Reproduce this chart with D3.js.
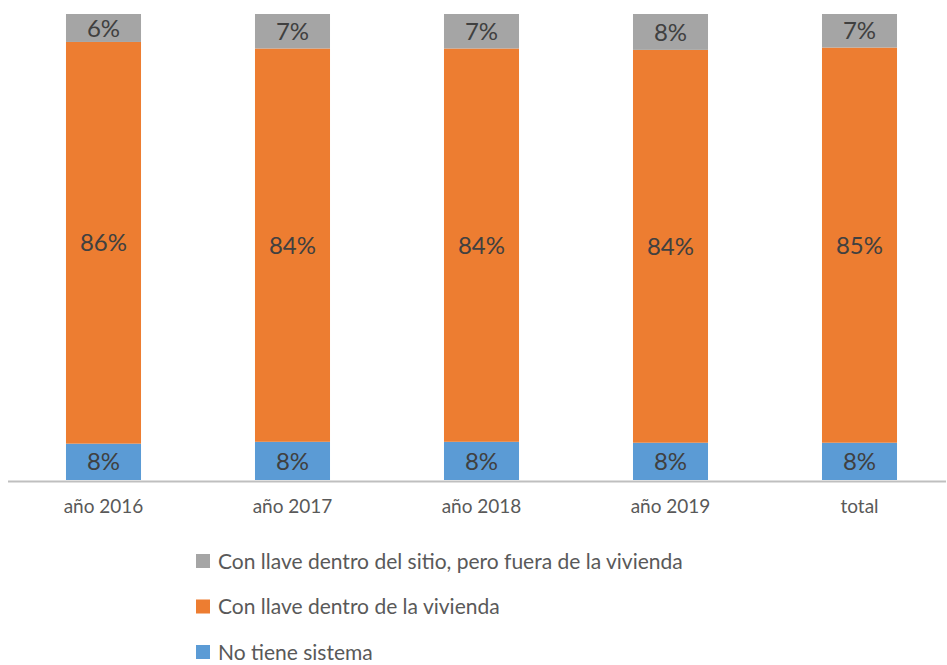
<!DOCTYPE html>
<html>
<head>
<meta charset="utf-8">
<script src="https://cdn.jsdelivr.net/npm/d3@7"></script>
<style>
  body { margin: 0; background: #fff; }
  text { font-family: Lato, "Open Sans", sans-serif; }
</style>
</head>
<body>
<div class="chart"></div>
<script>
// categories and series (percent of households)
const categories = ["año 2016", "año 2017", "año 2018", "año 2019", "total"];
const noTiene   = [7.8, 8.2, 8.2, 8.0, 8.0];
const dentroViv = [86.2, 84.4, 84.4, 84.3, 84.8];
const fueraViv  = [6.0, 7.4, 7.4, 7.7, 7.2];

const seriesNames = [
  "No tiene sistema",
  "Con llave dentro de la vivienda",
  "Con llave dentro del sitio, pero fuera de la vivienda"
];
const colors = ["#5B9BD5", "#ED7D31", "#A5A5A5"];

/* dimensions */
const width = 947, height = 665;
const plot = {left: 9, right: 954, top: 14, bottom: 480};

const svg = d3.select(".chart").append("svg")
  .attr("width", width)
  .attr("height", height);

/* build table for the stack */
const table = categories.map((c, i) => ({
  cat: c, s0: noTiene[i], s1: dentroViv[i], s2: fueraViv[i]
}));
const keys = ["s0", "s1", "s2"];
const stacked = d3.stack().keys(keys)(table);

const xScale = d3.scaleBand()
  .domain(categories)
  .range([plot.left, plot.right])
  .paddingInner(0.603)
  .paddingOuter(0.3015);

const yScale = d3.scaleLinear()
  .domain([0, 100])
  .range([plot.bottom, plot.top]);

/* bars */
const layers = svg.append("g").selectAll("g")
  .data(stacked)
  .join("g")
    .attr("fill", (d, i) => colors[i]);

layers.selectAll("rect")
  .data(d => d)
  .join("rect")
    .attr("x", d => xScale(d.data.cat))
    .attr("width", xScale.bandwidth())
    .attr("y", d => yScale(d[1]))
    .attr("height", d => yScale(d[0]) - yScale(d[1]));

/* data labels */
layers.selectAll("text")
  .data(d => d.map(v => ({v, key: d.key})))
  .join("text")
    .attr("x", d => xScale(d.v.data.cat) + xScale.bandwidth() / 2)
    .attr("y", d => (yScale(d.v[0]) + yScale(d.v[1])) / 2)
    .attr("dy", "0.36em")
    .attr("text-anchor", "middle")
    .attr("fill", "#404040")
    .style("font-size", "24px")
    .text(d => Math.round(d.v.data[d.key]) + "%");

/* x axis */
const xAxis = d3.axisBottom(xScale).tickSize(0).tickPadding(19);
const xLabels = svg.append("g")
  .attr("transform", `translate(0, ${plot.bottom + 1})`)
  .call(xAxis);
xLabels.select(".domain").remove();
xLabels.selectAll("text")
  .attr("fill", "#595959")
  .style("font-size", "19px")
  .style("font-family", "Lato, 'Open Sans', sans-serif");

svg.append("line")
  .attr("x1", 8).attr("x2", 946)
  .attr("y1", plot.bottom + 1.5).attr("y2", plot.bottom + 1.5)
  .attr("stroke", "#BFBFBF")
  .attr("stroke-width", 2);

/* legend (top item first) */
const legendRows = [2, 1, 0];
const legend = svg.append("g")
  .attr("transform", "translate(196, 561)");

const items = legend.selectAll("g")
  .data(legendRows)
  .join("g")
    .attr("transform", (d, i) => `translate(0, ${i * 45.5})`);

items.append("rect")
  .attr("x", 0).attr("y", -7)
  .attr("width", 14).attr("height", 14)
  .attr("fill", d => colors[d]);

items.append("text")
  .attr("x", 22)
  .attr("dy", "0.36em")
  .attr("fill", "#595959")
  .style("font-size", "21px")
  .text(d => seriesNames[d]);
</script>
</body>
</html>
